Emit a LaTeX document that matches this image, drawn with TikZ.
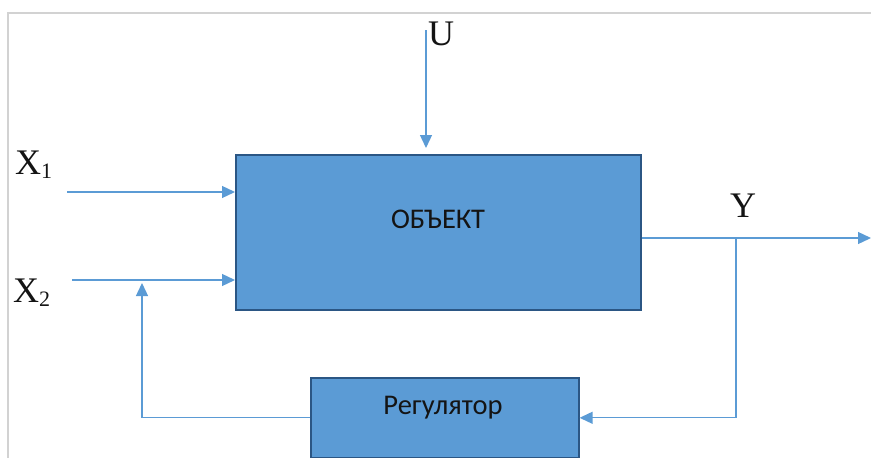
\documentclass[tikz,border=0pt]{standalone}
\usepackage{fontspec}
\setmainfont{Liberation Serif}
\newfontfamily\boxfont{Carlito}
\usetikzlibrary{arrows.meta}
\definecolor{boxfill}{HTML}{5B9BD5}
\definecolor{boxline}{HTML}{2B5684}
\definecolor{wire}{HTML}{5B9BD5}
\definecolor{framegray}{HTML}{D2D2D2}
\definecolor{ink}{HTML}{141414}
\begin{document}
\begin{tikzpicture}[x=1pt,y=-1pt,
  box/.style={draw=boxline, line width=1.6pt, fill=boxfill, inner sep=0pt},
  boxtext/.style={font=\boxfont\fontsize{28.5}{31}\selectfont, text=ink, inner sep=0pt},
  lab/.style={font=\fontsize{36}{40}\selectfont, text=ink, inner sep=0pt},
  wire/.style={draw=wire, line width=1.3pt},
  tip/.style={-{Triangle[length=13pt,width=12pt]}}]
\useasboundingbox (0,0) rectangle (871,458);
\draw[framegray, line width=1.2pt] (8,458) -- (8,13) -- (871,13);
% boxes
\node[box, minimum width=405pt, minimum height=155pt, anchor=north west] (obj) at (235,154) {};
\node[boxtext, anchor=base] (objlabel) at (438,228) {ОБЪЕКТ};
\node[box, minimum width=268pt, minimum height=80pt, anchor=north west] (reg) at (310,377) {};
\node[boxtext, anchor=base] (reglabel) at (443,414) {Регулятор};
% labels
\newcommand{\subdigit}[1]{\lower4pt\hbox{\fontsize{22}{24}\selectfont #1}}
\node[lab, anchor=base west] (x1lab) at (15,174) {X\subdigit{1}};
\node[lab, anchor=base west] (x2lab) at (13,302) {X\subdigit{2}};
\node[lab, anchor=base west] (ulab) at (428,45) {U};
\node[lab, anchor=base west] (ylab) at (730,217) {Y};
% free ends
\coordinate (x1s) at (67,192);
\coordinate (x2s) at (72,280);
\coordinate (us) at (426,30);
\coordinate (yend) at (871,238);
\coordinate (branch) at (736,238);
\coordinate (fbtop) at (142,283);
% connectors
\draw[wire, tip] (x1s) -- (x1s -| obj.west);
\draw[wire, tip] (x2s) -- (x2s -| obj.west);
\draw[wire, tip, shorten >=6pt] (us) -- (us |- obj.north);
\draw[wire, tip] (yend -| obj.east) -- (yend);
\draw[wire, tip] (branch) |- (reg.east);
\draw[wire, tip] (reg.west) -| (fbtop);
\end{tikzpicture}
\end{document}
